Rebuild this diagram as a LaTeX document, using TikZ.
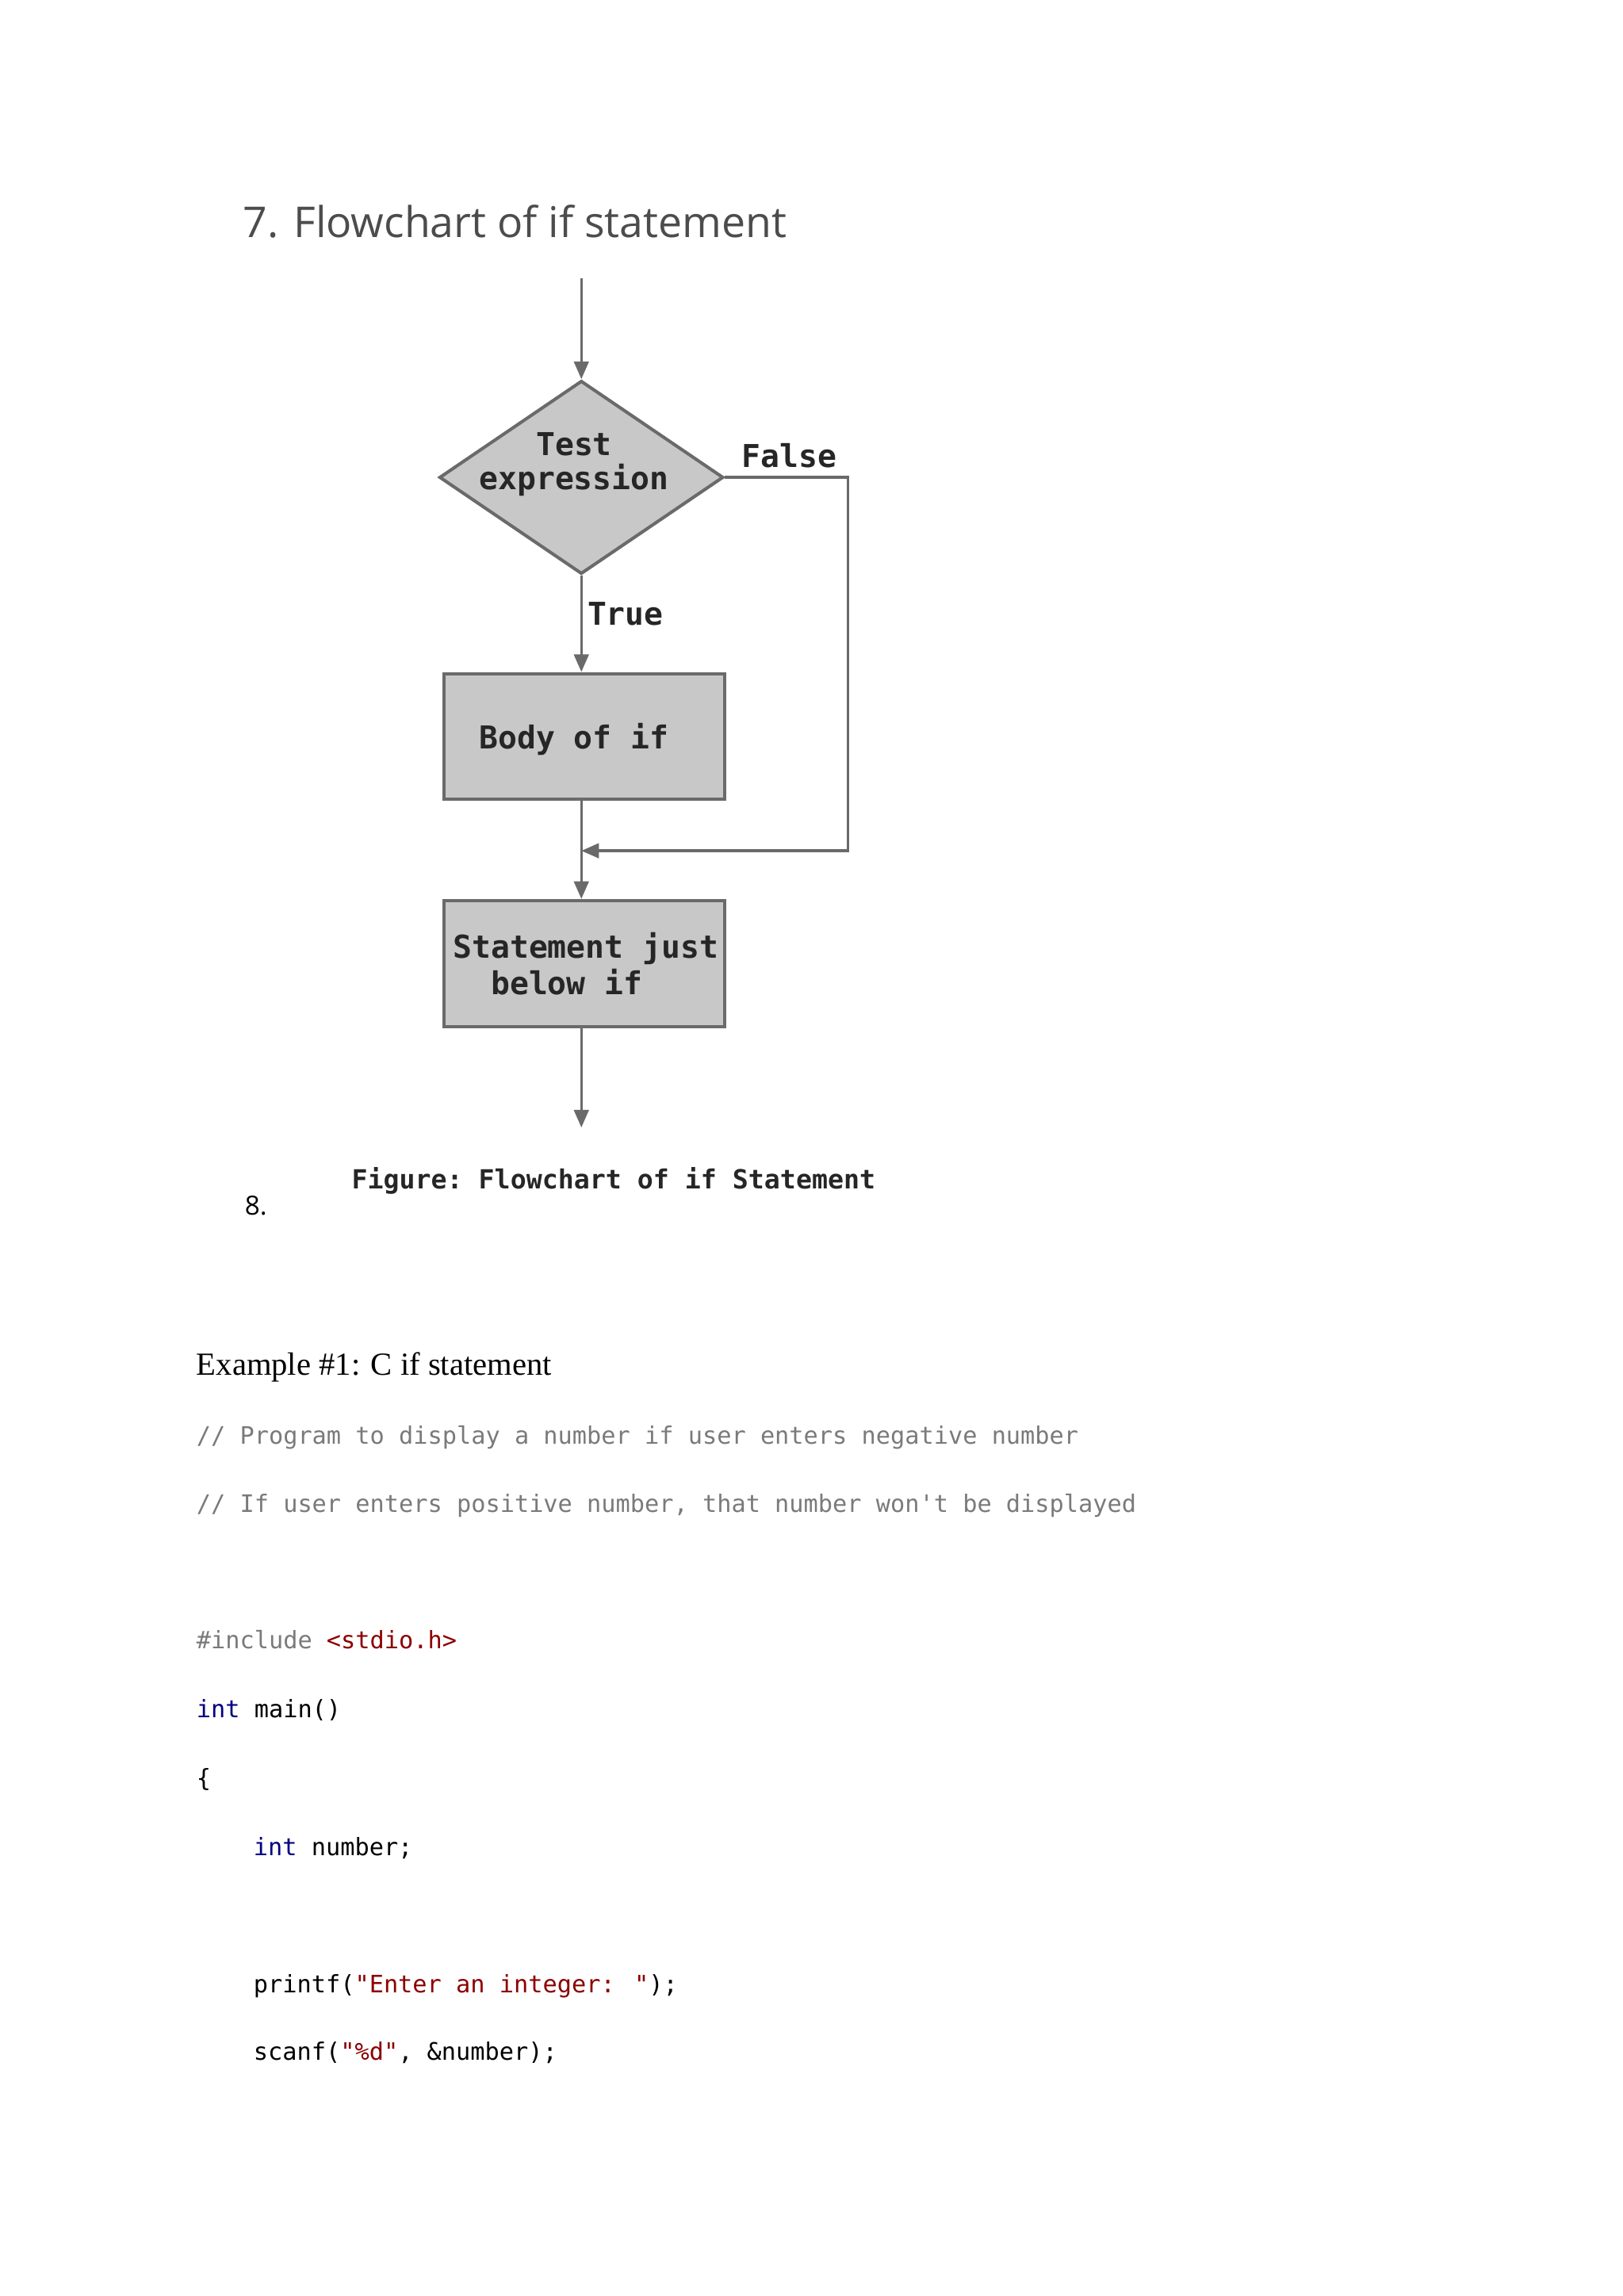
\documentclass[tikz,border=0pt]{standalone}
\usepackage{fontspec}
\setmainfont{Liberation Serif}
\setsansfont{Open Sans}
\setmonofont{DejaVu Sans Mono}
\newfontfamily\codefont{DejaVu Sans Mono}[Scale=1]
\usetikzlibrary{shapes.geometric,arrows.meta}
\definecolor{fl}{HTML}{C8C8C8}
\definecolor{ln}{HTML}{6A6A6A}
\definecolor{cm}{HTML}{7A7A7A}
\definecolor{st}{HTML}{8B0000}
\definecolor{kw}{HTML}{000080}
\begin{document}
\begin{tikzpicture}[x=1pt,y=-1pt,
  box/.style={draw=ln,line width=2.2pt,fill=fl,minimum width=192pt,minimum height=86pt,inner sep=0pt},
  con/.style={draw=ln,line width=1.8pt,-{Triangle[width=10pt,length=12pt]}},
  fc/.style={font=\fontsize{21.5}{27}\selectfont\ttfamily\bfseries,text=black!85},
  code/.style={anchor=base west,inner sep=0pt,font=\fontsize{16.4}{20}\selectfont\codefont}]
\useasboundingbox (0,0) rectangle (1108,1568);
\node[anchor=base west,inner sep=0pt,text=black!70,font=\fontsize{29}{34}\selectfont\sffamily] (title) at (166,162) {7. Flowchart of if statement};
\coordinate (start) at (397,190);
\node[diamond,draw=ln,line width=2.2pt,fill=fl,minimum width=194pt,minimum height=132pt,inner sep=0pt,aspect=1.47] (test) at (397,326) {};
\node[fc,align=center] (testt) at (392,317) {Test\\[-4pt]expression};
\node[box] (body) at (399,503) {};
\node[fc] (bodyt) at (392,505) {Body of if};
\node[box] (stmt) at (399,658) {};
\node[fc,align=left] (stmtt) at (400,658) {Statement just\\[-2pt]\ \ below if};
\coordinate (end) at (397,770);
\coordinate (corner1) at (579,326);
\coordinate (corner2) at (579,581);
\coordinate (join) at (397,581);
\draw[con] (start) -- (test.north);
\draw[con] (test.south) -- node[fc,right,pos=0.4] (truel) {True} (body.north -| test.south);
\draw[con] (body.south -| test.south) -- (stmt.north -| test.south);
\draw[con] (test.east) -- (corner1) -- (corner2) -- (join);
\node[fc] (falsel) at (539,311) {False};
\draw[con] (stmt.south -| test.south) -- (end);
\node[anchor=base,inner sep=0pt,font=\fontsize{18}{22}\selectfont\ttfamily\bfseries,text=black!85] (cap) at (419,812) {Figure: Flowchart of if Statement};
\node[anchor=base west,inner sep=0pt,font=\fontsize{18}{22}\selectfont\sffamily] (eight) at (167,830) {8.};
\node[anchor=base west,inner sep=0pt,font=\fontsize{22}{26}\selectfont] (ex) at (134,939) {Example \#1: C if statement};
\node[code,text=cm] (c1) at (134,986) {// Program to display a number if user enters negative number};
\node[code,text=cm] (c2) at (134,1033) {// If user enters positive number, that number won't be displayed};
\node[code] (c3) at (134,1126) {\textcolor{cm}{\#include} \textcolor{st}{<stdio.h>}};
\node[code] (c4) at (134,1173) {\textcolor{kw}{int} main()};
\node[code] (c5) at (134,1220) {\{};
\node[code] (c6) at (173,1267) {\textcolor{kw}{int} number;};
\node[code] (c7) at (173,1361) {printf(\textcolor{st}{"Enter an integer: "});};
\node[code] (c8) at (173,1407) {scanf(\textcolor{st}{"\%d"}, \&number);};
\end{tikzpicture}
\end{document}
